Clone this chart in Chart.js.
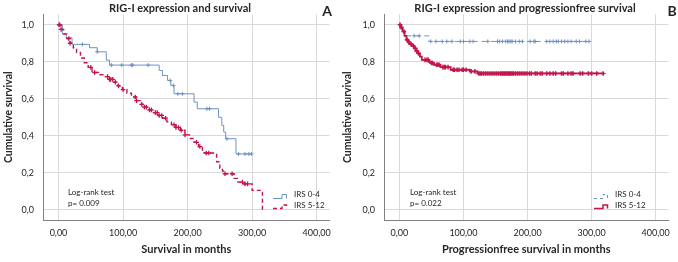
<!DOCTYPE html>
<html><head><meta charset="utf-8">
<script src="https://cdn.jsdelivr.net/npm/chart.js@4.4.1/dist/chart.umd.min.js"></script>
<style>
html,body{margin:0;padding:0;background:#fff;}
#wrap{position:relative;width:678px;height:262px;overflow:hidden;}
canvas{position:absolute;top:0;}
</style>
</head><body>
<div id="wrap">
<canvas id="ca" width="339" height="262" style="left:0;width:339px;height:262px"></canvas>
<canvas id="cb" width="339" height="262" style="left:339px;width:339px;height:262px"></canvas>
</div>
<script>
// ---------- Tick labels ----------
const xTickValues = [0, 100, 200, 300, 400];
const yTickValues = [0, 0.2, 0.4, 0.6, 0.8, 1.0];

// ---------- Panel A: overall survival ----------
const aTitle = 'RIG-I expression and survival';
const aXTitle = 'Survival in months';
const aPValue = 'p= 0.009';
const aLowTime = [0, 6, 12, 21, 48, 60, 74, 79, 156, 161, 169, 174, 179, 210, 215, 248, 253, 256, 259, 275, 299];
const aLowSurv = [1.0, 0.95, 0.93, 0.894, 0.876, 0.854, 0.809, 0.782, 0.753, 0.726, 0.699, 0.672, 0.627, 0.582, 0.546, 0.50, 0.456, 0.42, 0.384, 0.302, 0.302];
const aLowCensor = [37, 60, 82, 98, 113, 115, 139, 173, 178, 185, 192, 230, 234, 261, 279, 289, 295, 299];
const aHighTime = [0, 4, 8, 13, 18, 23, 28, 34, 40, 46, 52, 62, 70, 78, 85, 92, 99, 106, 113, 120, 127, 133, 140, 147, 154, 161, 168, 175, 182, 189, 196, 203, 210, 217, 223, 245, 250, 254, 258, 272, 278, 286, 300, 316, 318];
const aHighSurv = [1.0, 0.975, 0.95, 0.925, 0.9, 0.875, 0.85, 0.82, 0.795, 0.77, 0.742, 0.73, 0.72, 0.705, 0.69, 0.67, 0.65, 0.63, 0.61, 0.59, 0.57, 0.555, 0.54, 0.525, 0.51, 0.495, 0.475, 0.46, 0.445, 0.43, 0.405, 0.385, 0.365, 0.342, 0.307, 0.26, 0.225, 0.21, 0.195, 0.17, 0.15, 0.14, 0.105, 0.0, 0.0];
const aHighCensor = [1, 2, 4, 16, 18, 50, 56, 76, 79, 81, 84, 88, 93, 100, 119, 121, 129, 133, 136, 141, 144, 150, 153, 156, 160, 166, 179, 182, 186, 190, 196, 214, 219, 229, 233, 258, 269, 285, 289, 293];

// ---------- Panel B: progression-free survival ----------
const bTitle = 'RIG-I expression and progressionfree survival';
const bXTitle = 'Progressionfree survival in months';
const bPValue = 'p= 0.022';
const bLowTime = [0, 4, 9, 46, 298];
const bLowSurv = [1.0, 0.965, 0.94, 0.91, 0.91];
const bLowCensor = [23, 31, 49, 57, 67, 74, 82, 95, 100, 110, 115, 138, 153, 156, 161, 166, 169, 171, 174, 176, 181, 187, 192, 204, 210, 212, 230, 235, 240, 245, 248, 253, 258, 263, 268, 276, 281, 291, 296];
const bHighTime = [0, 2, 5, 8, 11, 14, 17, 20, 23, 26, 29, 32, 35, 46, 49, 54, 64, 80, 110, 122, 318];
const bHighSurv = [1.0, 0.985, 0.964, 0.94, 0.919, 0.905, 0.895, 0.885, 0.872, 0.858, 0.845, 0.828, 0.81, 0.8, 0.793, 0.784, 0.771, 0.757, 0.748, 0.737, 0.737];
const bHighCensor = [1, 3, 7, 12, 15, 18, 22, 25, 27, 30, 40, 43, 45, 50, 52, 58, 60, 62, 68, 70, 72, 76, 84, 86, 90, 93, 98, 100, 104, 112, 118, 124, 126, 128, 131, 134, 137, 140, 143, 146, 149, 152, 155, 158, 160, 162, 164, 166, 168, 170, 172, 174, 176, 178, 181, 184, 187, 190, 193, 196, 199, 203, 206, 212, 215, 220, 223, 230, 235, 240, 244, 253, 256, 263, 268, 271, 282, 286, 295, 300, 308, 318];

const groupLabels = ['IRS 0-4', 'IRS 5-12'];
const yTitle = 'Cumulative survival';
const logRankLabel = 'Log-rank test';

// ---------- helpers ----------
const BLUE = '#6d93c4';
const RED = '#c4154a';
const FONT = 'Lato';

function pts(times, survs) { return times.map((t, i) => ({x: t, y: survs[i]})); }
function survAt(times, survs, t) {
  let v = survs[0];
  for (let i = 0; i < times.length; i++) { if (times[i] <= t) v = survs[i]; }
  return v;
}
function censorPts(cens, times, survs) { return cens.map(t => ({x: t, y: survAt(times, survs, t)})); }

const fmtX = v => v.toFixed(2).replace('.', ',');
const fmtY = v => v.toFixed(1).replace('.', ',');

function annotPlugin(cfg) {
  return {
    id: 'annot',
    afterDraw(chart) {
      const ctx = chart.ctx;
      ctx.save();
      ctx.fillStyle = '#262626';
      ctx.textBaseline = 'middle';
      // title
      ctx.font = 'bold 11px ' + FONT;
      ctx.textAlign = 'center';
      ctx.fillText(cfg.title, cfg.titleX, 8);
      // panel letter
      ctx.font = 'bold 14px ' + FONT;
      ctx.fillText(cfg.letter, cfg.letterX, 11);
      // log-rank
      ctx.font = '8px ' + FONT;
      ctx.textAlign = 'left';
      ctx.fillText(logRankLabel, cfg.lrX, 192.5);
      ctx.fillText(cfg.p, cfg.lrX, 203);
      // legend
      ctx.fillText(groupLabels[0], cfg.legX + 21, 194);
      ctx.fillText(groupLabels[1], cfg.legX + 21, 205.5);
      const x0 = cfg.legX;
      // sample 1
      ctx.lineWidth = cfg.lowW;
      ctx.strokeStyle = BLUE;
      ctx.setLineDash(cfg.lowDash);
      ctx.beginPath();
      ctx.moveTo(x0, 198.5); ctx.lineTo(x0 + 9, 198.5); ctx.lineTo(x0 + 9, 194.5);
      ctx.lineTo(x0 + 13.5, 194.5); ctx.lineTo(x0 + 13.5, 198.5);
      ctx.stroke();
      // sample 2
      ctx.lineWidth = cfg.highW;
      ctx.strokeStyle = RED;
      ctx.setLineDash(cfg.highDash);
      ctx.beginPath();
      ctx.moveTo(x0, 208.5); ctx.lineTo(x0 + 9, 208.5); ctx.lineTo(x0 + 9, 205);
      ctx.lineTo(x0 + 13.5, 205); ctx.lineTo(x0 + 13.5, 208.5);
      ctx.stroke();
      ctx.restore();
    }
  };
}

function makeChart(id, d) {
  const datasets = [
    {data: censorPts(d.highC, d.highT, d.highS), showLine: false, pointStyle: 'cross', pointRadius: 2.3,
     pointBorderColor: RED, pointBorderWidth: d.highMarkW, pointBackgroundColor: RED},
    {data: pts(d.highT, d.highS), stepped: true, borderColor: RED, borderWidth: d.highW, borderDash: d.highDash,
     pointRadius: 0, fill: false},
    {data: censorPts(d.lowC, d.lowT, d.lowS), showLine: false, pointStyle: 'cross', pointRadius: 2,
     pointBorderColor: BLUE, pointBorderWidth: 1, pointBackgroundColor: BLUE},
    {data: pts(d.lowT, d.lowS), stepped: true, borderColor: BLUE, borderWidth: d.lowW, borderDash: d.lowDash,
     pointRadius: 0, fill: false}
  ];
  return new Chart(document.getElementById(id), {
    type: 'line',
    data: {datasets},
    options: {
      responsive: false, animation: false, devicePixelRatio: 1,
      layout: {padding: {top: 14, right: d.padRight, left: 0, bottom: 0}},
      plugins: {legend: {display: false}, title: {display: false}, tooltip: {enabled: false}},
      scales: {
        x: {
          type: 'linear', min: -24, max: 420,
          afterBuildTicks: s => { s.ticks = xTickValues.map(v => ({value: v})); },
          afterFit: s => { s.height = 42; },
          grid: {color: '#d9d9d9', lineWidth: 1, drawTicks: false},
          border: {color: '#808080', width: 1},
          ticks: {callback: v => fmtX(v), padding: 8, maxRotation: 0, autoSkip: false,
                  color: '#262626', font: {family: FONT, size: 9}},
          title: {display: true, text: d.xTitle, color: '#262626', padding: {top: 0, bottom: 6},
                  font: {family: FONT, size: 11, weight: 'bold'}}
        },
        y: {
          type: 'linear', min: -0.055, max: 1.056,
          afterBuildTicks: s => { s.ticks = yTickValues.map(v => ({value: v})); },
          afterFit: s => { s.width = d.yWidth; },
          grid: {color: '#d9d9d9', lineWidth: 1, drawTicks: false},
          border: {color: '#808080', width: 1},
          ticks: {callback: v => fmtY(v), padding: 9, autoSkip: false,
                  color: '#262626', font: {family: FONT, size: 9}},
          title: {display: true, text: yTitle, color: '#262626', padding: {top: 2, bottom: 0},
                  font: {family: FONT, size: 10.5, weight: 'bold'}}
        }
      }
    },
    plugins: [annotPlugin(d.annot)]
  });
}

makeChart('ca', {
  lowT: aLowTime, lowS: aLowSurv, lowC: aLowCensor,
  highT: aHighTime, highS: aHighSurv, highC: aHighCensor,
  lowW: 1, lowDash: [], highW: 1.4, highDash: [4, 3], highMarkW: 1.3,
  xTitle: aXTitle, yWidth: 43, padRight: 6,
  annot: {title: aTitle, titleX: 180, letter: 'A', letterX: 327, lrX: 68, p: aPValue, legX: 273,
          lowW: 1, lowDash: [], highW: 1.4, highDash: [4, 3]}
});
makeChart('cb', {
  lowT: bLowTime, lowS: bLowSurv, lowC: bLowCensor,
  highT: bHighTime, highS: bHighSurv, highC: bHighCensor,
  lowW: 1, lowDash: [5, 4], highW: 1.8, highDash: [], highMarkW: 1.5,
  xTitle: bXTitle, yWidth: 45, padRight: 5,
  annot: {title: bTitle, titleX: 186, letter: 'B', letterX: 333, lrX: 71, p: bPValue, legX: 255,
          lowW: 1, lowDash: [3, 3], highW: 1.5, highDash: []}
});
</script>
</body></html>
